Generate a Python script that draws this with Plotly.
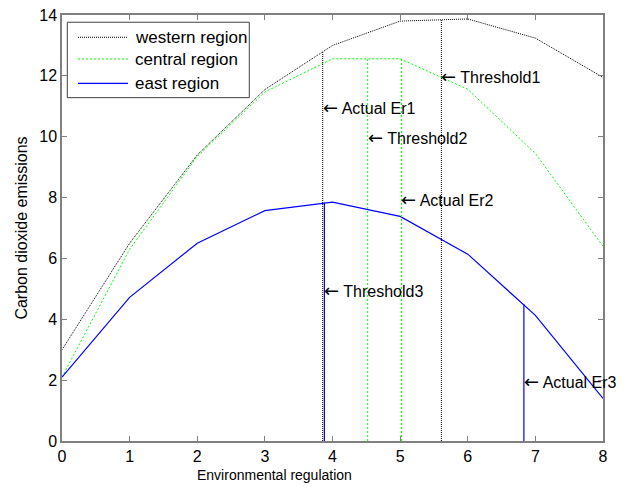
import plotly.graph_objects as go

# Curves
x = [0, 1, 2, 3, 4, 5, 6, 7, 8]
western = [3.0, 6.5, 9.4, 11.55, 13.0, 13.8, 13.87, 13.24, 11.95]
central = [2.1, 6.3, 9.35, 11.47, 12.56, 12.56, 11.56, 9.45, 6.4]
east = [2.1, 4.72, 6.5, 7.57, 7.85, 7.38, 6.14, 4.13, 1.4]

series_names = ["western region", "central region", "east region"]

# Vertical markers: position, height, label position (y) and label
marker_names = ["Actual Er1", "Threshold1", "Threshold2", "Actual Er2", "Threshold3", "Actual Er3"]
marker_x = [3.855, 5.61, 4.52, 5.02, 3.88, 6.83]
marker_top = [12.78, 13.84, 12.6, 12.56, 7.83, 4.5]
marker_label_y = [10.97, 11.97, 9.98, 7.95, 4.93, 1.95]
marker_region = ["western", "western", "central", "central", "east", "east"]

x_ticks = [0, 1, 2, 3, 4, 5, 6, 7, 8]
y_ticks = [0, 2, 4, 6, 8, 10, 12, 14]

styles = {
    "western": dict(color="#000000", dash="1px,1px", width=1),
    "central": dict(color="#00ff00", dash="2px,2px", width=1),
    "east": dict(color="#0000ff", dash="solid", width=1.2),
}

fig = go.Figure()
for name, ys, reg in zip(series_names, [western, central, east],
                         ["western", "central", "east"]):
    fig.add_trace(go.Scatter(x=x, y=ys, mode="lines", name=name,
                             line=styles[reg], showlegend=False))

arrow = "<span style='font-family:DejaVu Sans;font-size:18px'>\u2190</span> "
for name, mx, top, ly, reg in zip(marker_names, marker_x, marker_top,
                                  marker_label_y, marker_region):
    fig.add_trace(go.Scatter(x=[mx, mx], y=[0, top], mode="lines",
                             line=styles[reg], showlegend=False,
                             hoverinfo="skip"))
    fig.add_annotation(x=mx, y=ly, text=arrow + name, showarrow=False,
                       xanchor="left", yanchor="middle", xshift=-2,
                       font=dict(size=16, color="#000000"))

# legend box drawn by hand (MATLAB style, long line samples)
fig.add_shape(type="rect", xref="paper", yref="paper",
              x0=0.0098, x1=0.3462, y0=0.806, y1=0.983,
              line=dict(color="#404040", width=1), fillcolor="#ffffff",
              layer="above")
for i, (name, reg) in enumerate(zip(series_names, ["western", "central", "east"])):
    ly = [0.9477, 0.8967, 0.8397][i]
    fig.add_shape(type="line", xref="paper", yref="paper",
                  x0=0.0296, x1=0.122, y0=ly, y1=ly, line=styles[reg],
                  layer="above")
    fig.add_annotation(xref="paper", yref="paper", x=0.1312, y=ly,
                       text=name, showarrow=False, xanchor="left",
                       yanchor="middle", font=dict(size=17, color="#000000"))

axis_common = dict(
    showgrid=False, zeroline=False, showline=True, linecolor="#808080",
    linewidth=1.5, mirror="ticks", ticks="inside", ticklen=5,
    tickcolor="#808080", tickfont=dict(size=16, color="#000000"),
    automargin=False, ticklabeloverflow="allow",
)

fig.update_xaxes(range=[0, 8], tickvals=x_ticks, **axis_common)
fig.update_yaxes(range=[0, 14], tickvals=y_ticks,
                 title=dict(text="Carbon dioxide emissions",
                            font=dict(size=16, color="#000000"), standoff=8),
                 **axis_common)

fig.add_annotation(xref="paper", yref="paper", x=0.392, y=0, yshift=-24,
                   xanchor="center", yanchor="top", showarrow=False,
                   text="Environmental regulation",
                   font=dict(size=14, color="#000000"))

# page body has an 8px margin, so the figure is shifted by 8px
fig.update_layout(
    width=627, height=478,
    margin=dict(l=54, r=32, t=7, b=45),
    plot_bgcolor="#ffffff", paper_bgcolor="#ffffff",
    font=dict(family="Liberation Sans, Arial, sans-serif", color="#000000"),
    showlegend=False,
)

fig.write_html("out.html")
